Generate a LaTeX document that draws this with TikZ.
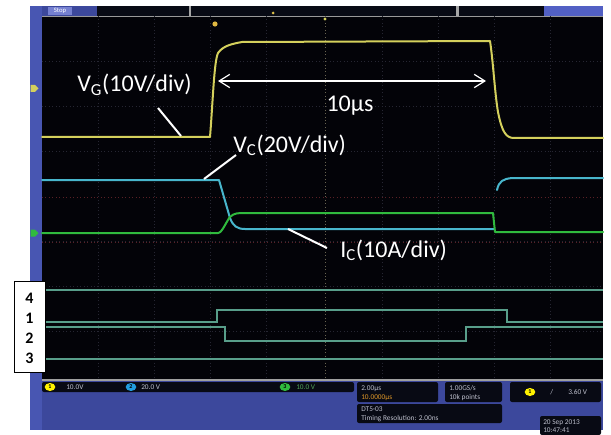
\documentclass[tikz,border=0pt]{standalone}
\usepackage{fontspec}
\setmainfont{Carlito}
\usetikzlibrary{arrows.meta,shapes.geometric}
\definecolor{scopeblue}{RGB}{60,72,156}
\definecolor{stripblue}{RGB}{72,86,178}
\definecolor{lightblue}{RGB}{82,96,196}
\definecolor{scopebg}{RGB}{3,3,8}
\definecolor{bardark}{RGB}{8,10,20}
\definecolor{vgcol}{RGB}{212,208,92}
\definecolor{vccol}{RGB}{72,182,204}
\definecolor{iccol}{RGB}{48,186,62}
\definecolor{digcol}{RGB}{88,158,138}
\definecolor{gridred}{RGB}{90,32,38}
\definecolor{griddark}{RGB}{38,38,50}
\definecolor{gridmid}{RGB}{105,100,80}
\definecolor{infotext}{RGB}{190,192,205}
\definecolor{infoorange}{RGB}{222,150,40}
\tikzset{
  trace/.style={line width=1.5pt, line join=round, line cap=round},
  digline/.style={digcol, line width=1pt},
  gridline/.style={dotted, line width=0.6pt},
  label/.style={text=white, font=\fontsize{18}{20}\selectfont, inner sep=0pt},
  leader/.style={white, line width=1.5pt},
  infobox/.style={fill=bardark, rounded corners=1.5pt},
  infotxt/.style={text=infotext, font=\fontsize{5.5}{6}\selectfont, inner sep=0pt, anchor=base west},
  badge/.style={ellipse, inner sep=0pt, minimum width=8pt, minimum height=6pt, font=\fontsize{4.5}{5}\selectfont\bfseries, text=black},
  digit/.style={font=\fontsize{12}{13}\selectfont\bfseries, text=black, inner sep=0pt}
}
\begin{document}
\begin{tikzpicture}[x=0.75pt,y=-0.75pt]
\useasboundingbox (0,0) rectangle (611,435);
\fill[white] (0,0) rectangle (611,435);
% frame
\fill[scopeblue] (30,6) rectangle (603,430);
\fill[stripblue] (30,6) rectangle (42,430);
% top bar
\fill[lightblue!80!white] (48,7) rectangle (72,15);
\node[text=white, font=\fontsize{5}{6}\selectfont, inner sep=0pt] (stop) at (60,11) {Stop};
\fill[bardark] (97,6) rectangle (456,16);
\fill[gray!70] (189,6) rectangle (191,16);
\fill[gray!70] (456,6) rectangle (459,16);
\fill[bardark] (459,6) rectangle (544,16);
\fill[lightblue] (544,6) rectangle (603,16);
\fill[vgcol!80!orange] (273,13) circle (1.5);
% plot area
\fill[scopebg] (42,16) rectangle (603,380);
\draw[gray!80, line width=0.8pt] (42,16.5) -- (603,16.5);
% grid
\foreach \gy in {61,106,151,241,286,331} {
  \draw[gridline, griddark] (42,\gy) -- (603,\gy);
}
\draw[gridline, gridred] (42,197) -- (603,197);
\draw[gridline, gridred] (42,242) -- (603,242);
\foreach \gx in {98,154,210,266,382,438,494,550} {
  \draw[gridline, griddark] (\gx,16) -- (\gx,380);
}
\draw[gridline, gridmid] (325,16) -- (325,380);
\fill[vgcol] (325,19) circle (1.6);
% bottom border line
\draw[gray!75, line width=0.8pt] (42,380) -- (603,380);
% trigger marker
\fill[vgcol!70!orange] (215,24) circle (2.6);
% channel markers
\fill[vgcol] (30.5,85) -- (35,85) -- (38.5,88.5) -- (35,92) -- (30.5,92) -- cycle;
\fill[iccol] (30.5,229.5) -- (35,229.5) -- (38.5,233) -- (35,236.5) -- (30.5,236.5) -- cycle;
% V_G trace
\draw[trace, vgcol] (42,137) -- (210,137)
  .. controls (213,100) and (214,62) .. (218,53)
  .. controls (223,46) and (231,44) .. (242,42) -- (490,41)
  .. controls (493,60) and (495,95) .. (498,112)
  .. controls (502,132) and (506,138) .. (514,138) -- (603,138);
% V_C trace
\draw[trace, vccol] (42,180) -- (219,180) -- (230,218)
  .. controls (233,226) and (237,229) .. (245,229) -- (494,229);
\draw[trace, vccol] (497,190) .. controls (499,181) and (503,179) .. (512,178) -- (603,178);
% I_C trace
\draw[trace, iccol] (42,233) -- (218,233)
  .. controls (222,233) and (226,222) .. (230,217)
  .. controls (234,213) and (238,213) .. (245,213) -- (493,213) -- (495,232) -- (603,232);
% digital lines
\draw[digline] (42,290) -- (603,290);
\draw[digline] (42,322) -- (217,322) -- (217,310) -- (507,310) -- (507,322) -- (603,322);
\draw[digline] (42,327) -- (225,327) -- (225,341) -- (466,341) -- (466,327) -- (603,327);
\draw[digline] (42,359) -- (603,359);
% labels
\node[label, anchor=base west] (vg) at (77,92) {V\textsubscript{G}(10V/div)};
\node[label, anchor=base west] (vc) at (233,152) {V\textsubscript{C}(20V/div)};
\node[label, anchor=base west] (ic) at (340,257) {I\textsubscript{C}(10A/div)};
\node[label, anchor=base] (dt) at (350,112) {10μs};
% leader lines
\coordinate (vgA) at (158,108);
\coordinate (vgB) at (181,136);
\coordinate (vcA) at (236,155);
\coordinate (vcB) at (204,179);
\coordinate (icA) at (327,248);
\coordinate (icB) at (288,229);
\draw[leader] (vgA) -- (vgB);
\draw[leader] (vcA) -- (vcB);
\draw[leader] (icA) -- (icB);
% 10us arrow
\coordinate (arL) at (218,81);
\coordinate (arR) at (486,81);
\draw[white, line width=0.9pt, {Straight Barb[length=8pt, width=10pt]}-{Straight Barb[length=8pt, width=10pt]}] (arL) -- (arR);
% digital labels box
\draw[black, fill=white, line width=0.7pt] (14,281) rectangle (45,372);
\node[digit] (d4) at (29.5,298) {4};
\node[digit] (d1) at (29.5,318) {1};
\node[digit] (d2) at (29.5,338) {2};
\node[digit] (d3) at (29.5,358) {3};
% bottom info panel
\fill[infobox] (42,382) rectangle (354,392);
\node[badge, fill=yellow] (b1) at (50,387) {1};
\node[infotxt] (t1) at (66,389) {10.0V};
\node[badge, fill=cyan!80!blue!90] (b2) at (131,387) {2};
\node[infotxt] (t2) at (141,389) {20.0 V};
\node[badge, fill=iccol] (b3) at (285,387) {3};
\node[infotxt, text=iccol!60!gray] (t3) at (296,389) {10.0 V};
\fill[infobox] (357,382) rectangle (438,402);
\node[infotxt] (h1) at (361,390) {2.00μs};
\node[infotxt, text=infoorange] (h2) at (361,399) {10.0000μs};
\fill[infobox] (445,382) rectangle (502,402);
\node[infotxt] (s1) at (449,390) {1.00GS/s};
\node[infotxt] (s2) at (449,399) {10k points};
\fill[infobox] (510,382) rectangle (601,402);
\node[badge, fill=yellow] (b4) at (530,392) {1};
\node[infotxt] (tr) at (550,394) {/};
\node[infotxt] (tv) at (568,394) {3.60 V};
\fill[infobox] (357,404) rectangle (502,423);
\node[infotxt] (r1) at (361,411) {DT5-03};
\node[infotxt] (r2) at (361,420) {Timing Resolution: 2.00ns};
\fill[infobox] (540,416) rectangle (601,435);
\node[infotxt] (dd) at (543,424) {20 Sep 2013};
\node[infotxt] (dtm) at (543,432) {10:47:41};
\end{tikzpicture}
\end{document}
